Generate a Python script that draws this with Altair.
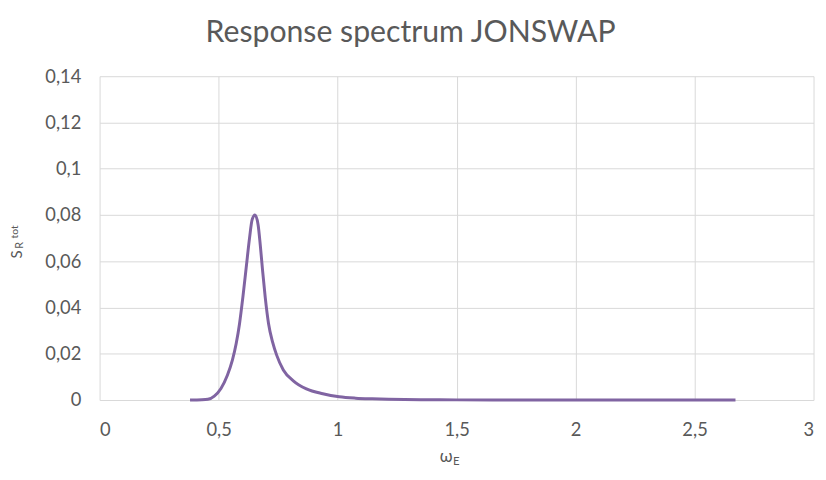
import altair as alt
import pandas as pd

# Data
omega = [0.38, 0.43, 0.455, 0.482, 0.510, 0.537, 0.558, 0.574, 0.588, 0.602,
         0.616, 0.630, 0.641, 0.653, 0.666, 0.675, 0.685, 0.696, 0.710, 0.727,
         0.744, 0.772, 0.814, 0.869, 0.938, 1.007, 1.076, 1.145, 1.214, 1.35,
         1.5, 1.8, 2.2, 2.672]
s_tot = [0.0, 0.0001, 0.0003, 0.0017, 0.005, 0.0107, 0.0172, 0.0244, 0.033, 0.0444,
         0.0572, 0.070, 0.078, 0.0800, 0.0758, 0.0672, 0.0558, 0.0444, 0.033, 0.0250,
         0.0194, 0.013, 0.0083, 0.0048, 0.0027, 0.0014, 0.0008, 0.0005, 0.0003, 0.0001,
         0.00005, 0.00002, 0.00001, 0.0]
x_ticks = [0, 0.5, 1, 1.5, 2, 2.5, 3]
y_ticks = [0, 0.02, 0.04, 0.06, 0.08, 0.1, 0.12, 0.14]

title_text = "Response spectrum JONSWAP"

df = pd.DataFrame({"omega": omega, "s": s_tot})

FONT = "Lato"
GREY = "#595959"
label_expr = "replace(format(datum.value, '~g'), '.', ',')"

line = alt.Chart(df).mark_line(
    color="#8064A2", strokeWidth=3, interpolate="monotone"
).encode(
    x=alt.X("omega:Q", scale=alt.Scale(domain=[0, 3], nice=False),
            axis=alt.Axis(values=x_ticks, labelExpr=label_expr, title=None)),
    y=alt.Y("s:Q", scale=alt.Scale(domain=[0, 0.14], nice=False),
            axis=alt.Axis(values=y_ticks, labelExpr=label_expr, title=None)),
)

one = alt.Data(values=[{}])

def label(txt, x, y, size, angle=0, align="center"):
    return alt.Chart(one).mark_text(
        text=txt, fontSize=size, font=FONT, color=GREY, angle=angle,
        align=align, baseline="alphabetic"
    ).encode(x=alt.value(x), y=alt.value(y))

title = label(title_text, 314, -35, 30.5)
y_title = (label("S", -78.2, 180.1, 15, angle=270)
           + label("R", -77.5, 170.9, 11, angle=270)
           + label("tot", -82.3, 157.2, 10.5, angle=270))
x_title = (label("\u03c9", 350, 390, 17)
           + label("E", 357, 392.5, 11.5, align="left"))

chart = alt.layer(line, title, y_title, x_title).properties(
    width=721, height=327,
    autosize=alt.AutoSizeParams(type="none"),
    padding={"left": 92.5, "top": 66.6, "right": 4.5, "bottom": 66},
).configure_axis(
    domain=False, ticks=False, grid=True, gridColor="#d9d9d9", gridWidth=1,
    labelFont=FONT, labelFontSize=18.5, labelColor=GREY,
).configure_axisY(labelPadding=19).configure_axisX(labelPadding=21).configure_view(
    stroke=None
)

chart.save("out.html", embed_options={"renderer": "svg", "actions": False})
